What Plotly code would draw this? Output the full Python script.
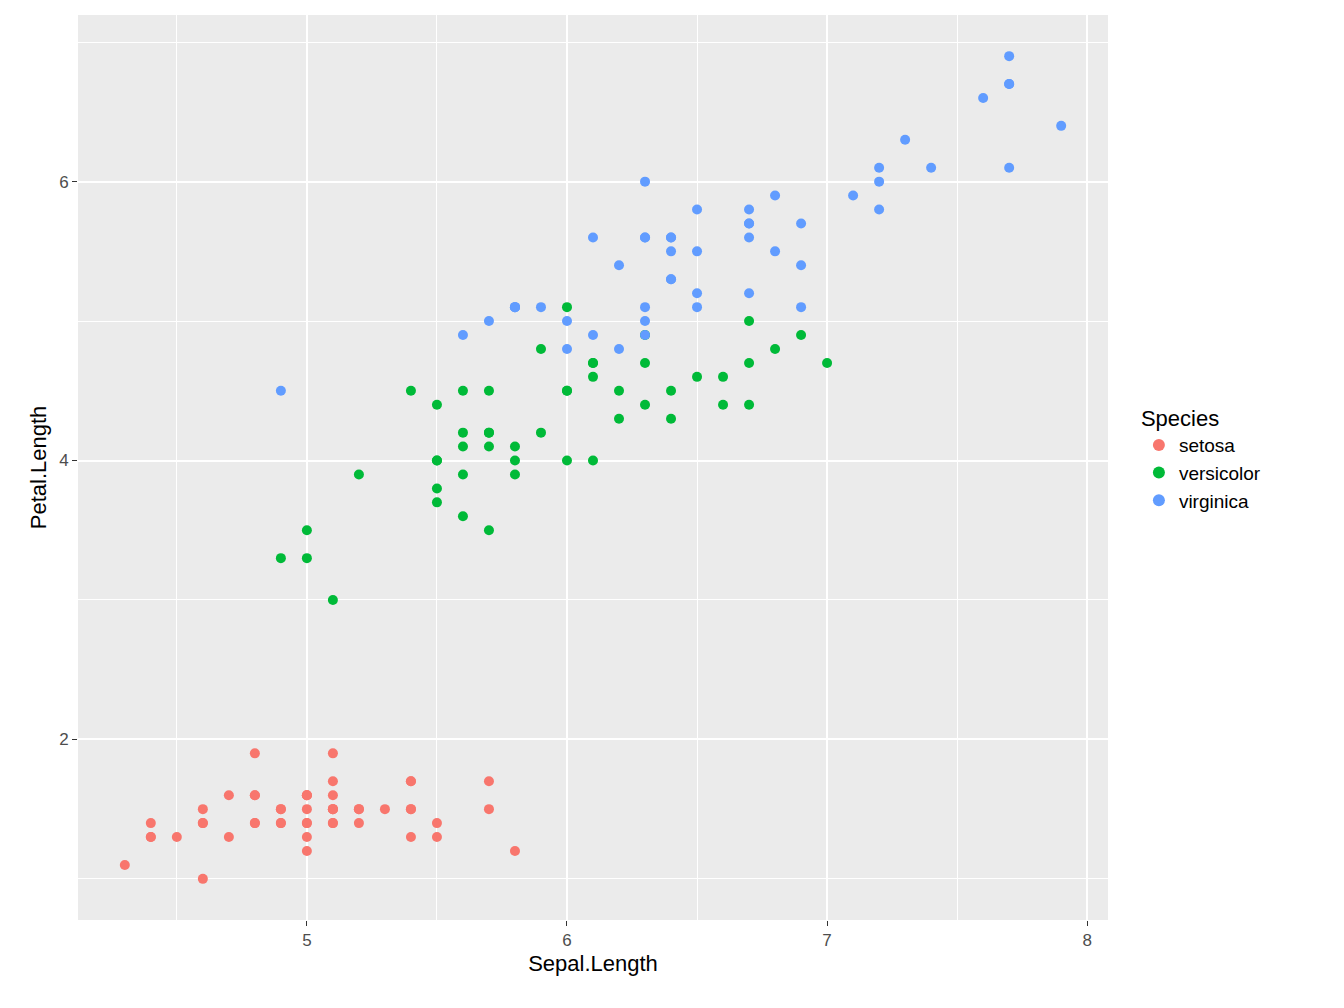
import plotly.graph_objects as go

species = ["setosa", "versicolor", "virginica"]
colors = ["#F8766D", "#00BA38", "#619CFF"]
sepal = {
 "setosa":[5.1,4.9,4.7,4.6,5.0,5.4,4.6,5.0,4.4,4.9,5.4,4.8,4.8,4.3,5.8,5.7,5.4,5.1,5.7,5.1,5.4,5.1,4.6,5.1,4.8,5.0,5.0,5.2,5.2,4.7,4.8,5.4,5.2,5.5,4.9,5.0,5.5,4.9,4.4,5.1,5.0,4.5,4.4,5.0,5.1,4.8,5.1,4.6,5.3,5.0],
 "versicolor":[7.0,6.4,6.9,5.5,6.5,5.7,6.3,4.9,6.6,5.2,5.0,5.9,6.0,6.1,5.6,6.7,5.6,5.8,6.2,5.6,5.9,6.1,6.3,6.1,6.4,6.6,6.8,6.7,6.0,5.7,5.5,5.5,5.8,6.0,5.4,6.0,6.7,6.3,5.6,5.5,5.5,6.1,5.8,5.0,5.6,5.7,5.7,6.2,5.1,5.7],
 "virginica":[6.3,5.8,7.1,6.3,6.5,7.6,4.9,7.3,6.7,7.2,6.5,6.4,6.8,5.7,5.8,6.4,6.5,7.7,7.7,6.0,6.9,5.6,7.7,6.3,6.7,7.2,6.2,6.1,6.4,7.2,7.4,7.9,6.4,6.3,6.1,7.7,6.3,6.4,6.0,6.9,6.7,6.9,5.8,6.8,6.7,6.7,6.3,6.5,6.2,5.9],
}
petal = {
 "setosa":[1.4,1.4,1.3,1.5,1.4,1.7,1.4,1.5,1.4,1.5,1.5,1.6,1.4,1.1,1.2,1.5,1.3,1.4,1.7,1.5,1.7,1.5,1.0,1.7,1.9,1.6,1.6,1.5,1.4,1.6,1.6,1.5,1.5,1.4,1.5,1.2,1.3,1.4,1.3,1.5,1.3,1.3,1.3,1.6,1.9,1.4,1.6,1.4,1.5,1.4],
 "versicolor":[4.7,4.5,4.9,4.0,4.6,4.5,4.7,3.3,4.6,3.9,3.5,4.2,4.0,4.7,3.6,4.4,4.5,4.1,4.5,3.9,4.8,4.0,4.9,4.7,4.3,4.4,4.8,5.0,4.5,3.5,3.8,3.7,3.9,5.1,4.5,4.5,4.7,4.4,4.1,4.0,4.4,4.6,4.0,3.3,4.2,4.2,4.2,4.3,3.0,4.1],
 "virginica":[6.0,5.1,5.9,5.6,5.8,6.6,4.5,6.3,5.8,6.1,5.1,5.3,5.5,5.0,5.1,5.3,5.5,6.7,6.9,5.0,5.7,4.9,6.7,4.9,5.7,6.0,4.8,4.9,5.6,5.8,6.1,6.4,5.6,5.1,5.6,6.1,5.6,5.5,4.8,5.4,5.6,5.1,5.1,5.9,5.7,5.2,5.0,5.2,5.4,5.1],
}

fig = go.Figure()
for s, c in zip(species, colors):
    fig.add_trace(go.Scatter(x=sepal[s], y=petal[s], mode="markers", name=s,
                             marker=dict(color=c, size=10, line=dict(width=0))))

axis = dict(showgrid=True, gridcolor="white", gridwidth=1.6, zeroline=False,
            ticks="outside", ticklen=5, tickcolor="#333333", tickwidth=1.2,
            tickfont=dict(size=17, color="#4D4D4D"), showline=False,
            minor=dict(showgrid=True, gridcolor="white", gridwidth=0.8))
fig.update_xaxes(**axis, range=[4.12, 8.08], tickvals=[5, 6, 7, 8], title=dict(text="Sepal.Length", font=dict(size=22, color="black"), standoff=6))
fig.update_xaxes(minor_tickvals=[4.5, 5.5, 6.5, 7.5], minor_ticks="")
fig.update_yaxes(**axis, range=[0.705, 7.195], tickvals=[2, 4, 6], title=dict(text="Petal.Length", font=dict(size=22, color="black"), standoff=6))
fig.update_yaxes(minor_tickvals=[1, 3, 5, 7], minor_ticks="")

fig.update_layout(
    width=1344, height=1008, plot_bgcolor="#EBEBEB", paper_bgcolor="white",
    font=dict(family="Liberation Sans, Arial, sans-serif"),
    margin=dict(l=70, r=244, t=7, b=96),
    legend=dict(title=dict(text="Species", font=dict(size=22, color="black")),
                font=dict(size=19, color="black"), x=1.03, xanchor="left", y=0.51, yanchor="middle",
                itemsizing="constant", tracegroupgap=20, bgcolor="white"),
)
fig.write_html("out.html")
